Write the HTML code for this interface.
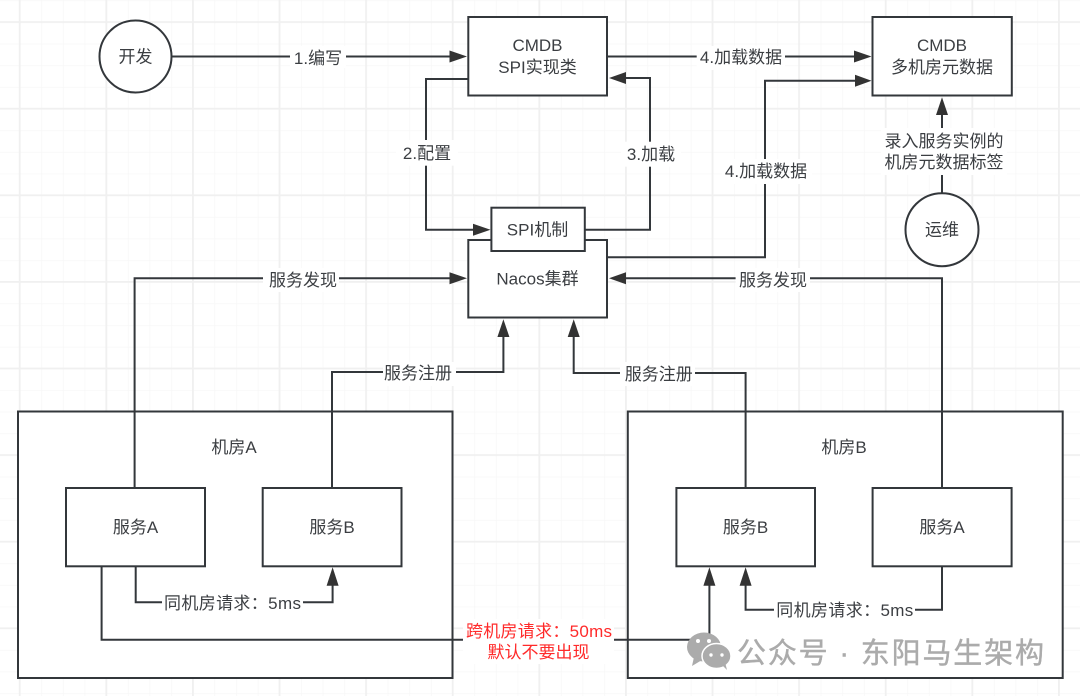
<!DOCTYPE html>
<html><head><meta charset="utf-8"><style>
html,body{margin:0;padding:0;background:#fff}
svg{display:block;filter:blur(.3px)}
text{font-family:"Liberation Sans","Noto Sans CJK SC",sans-serif;font-size:17px;fill:#3b3e42;text-anchor:middle}
.l{fill:none;stroke:#33373b;stroke-width:2}
.b{fill:#fff;stroke:#33373b;stroke-width:2}
.a{fill:#333}
.bg{fill:#fff}
</style></head><body>
<svg width="1080" height="696" viewBox="0 0 1080 696" xmlns="http://www.w3.org/2000/svg">
<defs>
<pattern id="gm" x="19.6" y="22" width="21.65" height="21.65" patternUnits="userSpaceOnUse"><path d="M0 0V21.65M0 0H21.65" fill="none" stroke="#f7f7f7" stroke-width="1.5"/></pattern>
<pattern id="gM" x="18.8" y="21.2" width="86.6" height="86.6" patternUnits="userSpaceOnUse"><path d="M0.8 0V86.6M0 0.8H86.6" fill="none" stroke="#f0f0f0" stroke-width="2"/></pattern>
</defs>
<rect width="1080" height="696" fill="#fff"/>
<rect width="1080" height="696" fill="url(#gm)"/>
<rect width="1080" height="696" fill="url(#gM)"/>

<rect class="b" x="18" y="411.5" width="434.5" height="266.5"/>
<rect class="b" x="627.8" y="411.5" width="434.9" height="266.5"/>

<path class="l" d="M172 56.5H455"/>
<path class="l" d="M468 79H426V229.7H478"/>
<path class="l" d="M585 229.7H650V78H620"/>
<path class="l" d="M607 56.5H860"/>
<path class="l" d="M607 257.3H765V80.7H860"/>
<path class="l" d="M942 193V108"/>
<path class="l" d="M134.6 488V278.3H455"/>
<path class="l" d="M942 488V278.3H620"/>
<path class="l" d="M332 488V372H503.4V332"/>
<path class="l" d="M745.6 488V373H573.7V332"/>
<path class="l" d="M135.7 566V602.3H332.6V580"/>
<path class="l" d="M942 566V609.7H745.6V580"/>
<path class="l" d="M101.6 566V639.7H709.4V580"/>

<polygon class="a" points="467,56.5 449.5,50.5 449.5,62.5"/>
<polygon class="a" points="490.5,229.7 473,223.7 473,235.7"/>
<polygon class="a" points="609,78 626,72 626,84"/>
<polygon class="a" points="871.5,56.5 854,50.5 854,62.5"/>
<polygon class="a" points="871.5,80.7 855,74.7 855,86.7"/>
<polygon class="a" points="942,97.3 936,115 948,115"/>
<polygon class="a" points="467,278.3 449.5,272.3 449.5,284.3"/>
<polygon class="a" points="609,278.3 626,272.3 626,284.3"/>
<polygon class="a" points="503.4,319.3 497.4,337 509.4,337"/>
<polygon class="a" points="573.7,319.3 567.7,337 579.7,337"/>
<polygon class="a" points="332.6,567.3 326.6,585.7 338.6,585.7"/>
<polygon class="a" points="745.6,567.3 739.6,585.7 751.6,585.7"/>
<polygon class="a" points="709.4,567.3 703.4,585.7 715.4,585.7"/>

<circle class="b" cx="135.5" cy="56.5" r="36"/>
<circle class="b" cx="942" cy="229.7" r="36.5"/>
<rect class="b" x="468.3" y="17" width="138.7" height="78.5"/>
<rect class="b" x="872.5" y="17" width="139.3" height="78.5"/>
<rect class="b" x="468.3" y="240" width="138.7" height="77.5"/>
<rect class="b" x="491.4" y="207.7" width="93.4" height="43.3"/>
<rect class="b" x="66" y="488" width="139" height="78.3"/>
<rect class="b" x="262.7" y="488" width="138.8" height="78.3"/>
<rect class="b" x="676.4" y="488" width="138.6" height="78.3"/>
<rect class="b" x="872.6" y="488" width="139" height="78.3"/>

<rect class="bg" x="290" y="46" width="56" height="22"/>
<rect class="bg" x="396" y="140" width="62" height="25.7"/>
<rect class="bg" x="621" y="141.7" width="60" height="25"/>
<rect class="bg" x="696.7" y="46" width="88.3" height="24"/>
<rect class="bg" x="722" y="159" width="90" height="25"/>
<rect class="bg" x="881" y="128" width="126" height="47"/>
<rect class="bg" x="263" y="268" width="76" height="24"/>
<rect class="bg" x="735.6" y="268" width="74.4" height="24"/>
<rect class="bg" x="383" y="362" width="73" height="24"/>
<rect class="bg" x="620" y="362" width="75" height="24"/>
<rect class="bg" x="162" y="592" width="141" height="24"/>
<rect class="bg" x="774" y="599" width="141" height="24"/>
<rect class="bg" x="463" y="619" width="151" height="45"/>

<text x="135.5" y="62.5">开发</text>
<text x="318" y="64">1.编写</text>
<text x="537.5" y="51">CMDB</text>
<text x="537.5" y="73">SPI实现类</text>
<text x="942" y="51">CMDB</text>
<text x="942" y="73">多机房元数据</text>
<text x="427" y="159">2.配置</text>
<text x="651" y="160">3.加载</text>
<text x="741" y="63">4.加载数据</text>
<text x="766" y="177">4.加载数据</text>
<text x="944" y="147">录入服务实例的</text>
<text x="944" y="168">机房元数据标签</text>
<text x="942" y="235.5">运维</text>
<text x="537.5" y="235.5">SPI机制</text>
<text x="537.5" y="284.5">Nacos集群</text>
<text x="303" y="286">服务发现</text>
<text x="773" y="286">服务发现</text>
<text x="418" y="379">服务注册</text>
<text x="658.8" y="380">服务注册</text>
<text x="234" y="453">机房A</text>
<text x="844" y="453">机房B</text>
<text x="135.5" y="533">服务A</text>
<text x="332" y="533">服务B</text>
<text x="745.6" y="533">服务B</text>
<text x="942" y="533">服务A</text>
<text x="232.5" y="609" textLength="137" lengthAdjust="spacing">同机房请求：5ms</text>
<text x="844.8" y="616" textLength="137" lengthAdjust="spacing">同机房请求：5ms</text>
<text x="539" y="637" textLength="146" lengthAdjust="spacing" style="fill:#ff2a2a">跨机房请求：50ms</text>
<text x="538.5" y="658" style="fill:#ff2a2a">默认不要出现</text>

<g fill="#ababab">
<ellipse cx="704" cy="647" rx="17" ry="14.5"/>
<polygon points="694,657 692,666 702,660"/>
</g>
<ellipse cx="716.5" cy="656" rx="14.5" ry="12.5" fill="#ababab" stroke="#fff" stroke-width="1.5"/>
<polygon points="722,665 727,670 725,662" fill="#ababab"/>
<circle cx="698" cy="641" r="2" fill="#fff"/><circle cx="709" cy="641" r="2" fill="#fff"/>
<circle cx="711" cy="655" r="1.7" fill="#fff"/><circle cx="722" cy="655" r="1.7" fill="#fff"/>
<text x="737" y="663" textLength="307" lengthAdjust="spacing" style="font-size:29px;fill:#ababab;stroke:#ababab;stroke-width:.4;text-anchor:start">公众号 · 东阳马生架构</text>
</svg>
</body></html>
